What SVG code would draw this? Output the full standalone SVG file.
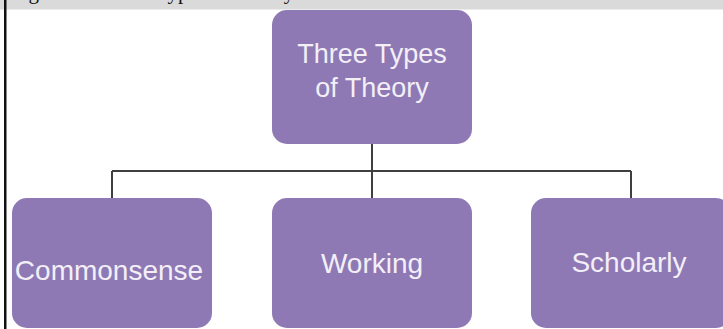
<svg xmlns="http://www.w3.org/2000/svg" width="723" height="329" viewBox="0 0 723 329">
  <style>
    .box { fill: #8e79b5; }
    .label { font-family: "Liberation Sans", Arial, sans-serif; font-size: 28px; fill: #f3eff7; text-anchor: middle; }
    .link { stroke: #3f3f3f; stroke-width: 2; fill: none; }
  </style>
  <rect x="0" y="0" width="723" height="329" fill="#ffffff"/>
  <!-- caption strip -->
  <rect x="0" y="0" width="723" height="9.5" fill="#dadada"/>
  <text x="11" y="-1.5" font-family="Liberation Serif, serif" font-size="21" fill="#111">Figure 1.1 Three Types of Theory</text>
  <!-- left frame rule -->
  <rect x="4" y="0" width="2.5" height="329" fill="#111"/>

  <g id="connectors">
    <path class="link" d="M372 144 V171"/>
    <path class="link" d="M112 171 H631"/>
    <path class="link" d="M112 171 V198"/>
    <path class="link" d="M372 171 V198"/>
    <path class="link" d="M631 171 V198"/>
  </g>

  <g id="root">
    <rect class="box" x="272" y="10" width="200" height="134" rx="15"/>
    <text class="label" x="372" y="63" style="font-size:27px">Three Types</text>
    <text class="label" x="372" y="97" style="font-size:27px">of Theory</text>
  </g>
  <g id="commonsense">
    <rect class="box" x="12" y="198" width="200" height="130" rx="15"/>
    <text class="label" x="109" y="280">Commonsense</text>
  </g>
  <g id="working">
    <rect class="box" x="272" y="198" width="200" height="130" rx="15"/>
    <text class="label" x="372" y="273">Working</text>
  </g>
  <g id="scholarly">
    <rect class="box" x="531" y="198" width="200" height="130" rx="15"/>
    <text class="label" x="629" y="272">Scholarly</text>
  </g>
</svg>
